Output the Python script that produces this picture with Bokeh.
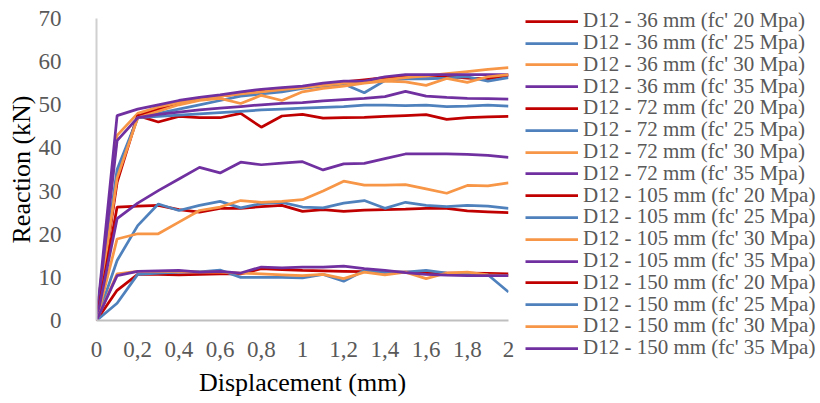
from bokeh.plotting import figure
from bokeh.models import Range1d, FixedTicker, CustomJSTickFormatter, Legend, LegendItem
from bokeh.layouts import row
from bokeh.embed import file_html
from bokeh.resources import INLINE

displacement = [0, 0.1, 0.2, 0.3, 0.4, 0.5, 0.6, 0.7, 0.8, 0.9, 1.0,
                1.1, 1.2, 1.3, 1.4, 1.5, 1.6, 1.7, 1.8, 1.9, 2.0]

r36_20 = [0, 33, 47.5, 49, 50.5, 51.5, 52, 52.5, 53.2, 53.5, 54, 54.8, 55.3, 55.8, 56.3, 56.5, 56.7, 56.6, 56.2, 56.0, 56.8]
r36_25 = [0, 35, 47, 48, 49, 50, 51, 52, 52.5, 53, 53.8, 54.3, 54.8, 52.8, 55.6, 56, 56, 56.2, 56.5, 55.5, 56.3]
r36_30 = [0, 42.9, 48, 49.5, 50.5, 51.5, 52, 52.5, 53, 53.5, 54, 54.5, 55, 55.3, 55.8, 56.3, 56.7, 57.2, 57.7, 58.2, 58.6]
r36_35 = [0, 47.5, 49, 50, 51, 51.7, 52.3, 53, 53.6, 54, 54.3, 55, 55.5, 55.5, 56.5, 57, 57, 57, 57, 57, 57]

r72_20 = [0, 32, 47.5, 46, 47.3, 47, 47, 48, 44.8, 47.4, 47.8, 46.9, 47, 47.1, 47.3, 47.5, 47.7, 46.6, 47, 47.2, 47.3]
r72_25 = [0, 34, 47, 47.3, 47.6, 47.9, 48.2, 48.5, 48.8, 49, 49.2, 49.4, 49.6, 49.9, 49.9, 49.8, 49.9, 49.6, 49.7, 49.9, 49.7]
r72_30 = [0, 33, 47, 48.5, 50, 51, 51.5, 50.3, 52.2, 51, 53, 53.8, 54.3, 55, 55.5, 55.3, 54.5, 56.1, 55.2, 56.5, 57]
r72_35 = [0, 41.7, 47, 47.8, 48.3, 48.8, 49.2, 49.6, 50, 50.3, 50.5, 50.9, 51.2, 51.5, 51.9, 53.1, 52, 51.7, 51.5, 51.4, 51.3]

r105_20 = [0, 26.3, 26.5, 26.7, 25.7, 25.1, 26, 26, 26.4, 26.7, 25.3, 25.7, 25.3, 25.6, 25.7, 25.8, 26, 26, 25.4, 25.2, 25]
r105_25 = [0, 13.9, 22, 27, 25.5, 26.7, 27.6, 26.1, 27.1, 27.4, 26.3, 26.1, 27.2, 27.8, 26, 27.4, 26.7, 26.4, 26.7, 26.5, 26]
r105_30 = [0, 18.9, 20.1, 20.1, 22.8, 25.5, 26.3, 27.8, 27.4, 27.6, 28, 30, 32.3, 31.4, 31.4, 31.5, 30.5, 29.5, 31.3, 31.2, 31.9]
r105_35 = [0, 23.6, 27.2, 30.1, 32.8, 35.5, 34.2, 36.7, 36.1, 36.5, 36.8, 34.9, 36.3, 36.4, 37.5, 38.6, 38.6, 38.6, 38.5, 38.3, 37.8]

r150_20 = [0, 7, 10.7, 10.7, 10.6, 10.7, 10.8, 10.8, 12, 11.8, 11.6, 11.5, 11.4, 11.3, 11.2, 11.2, 11.1, 11, 11, 10.9, 10.8]
r150_25 = [0, 4, 10.7, 11, 11.2, 11.3, 11.7, 10, 10, 10, 9.9, 10.7, 9.1, 11.6, 11.2, 11.2, 11.6, 11, 10.8, 10.6, 6.6]
r150_30 = [0, 10.8, 11.4, 11.4, 11.4, 11.2, 11.2, 11, 10.8, 10.6, 10.4, 10.7, 9.7, 11.2, 10.6, 11.2, 9.7, 11, 11.2, 10.6, 10.4]
r150_35 = [0, 10.4, 11.4, 11.5, 11.6, 11.2, 11.4, 11, 12.4, 12.2, 12.4, 12.4, 12.6, 12, 11.6, 11.1, 10.7, 10.5, 10.4, 10.4, 10.4]

series_names = [
    "D12 - 36 mm (fc' 20 Mpa)", "D12 - 36 mm (fc' 25 Mpa)", "D12 - 36 mm (fc' 30 Mpa)", "D12 - 36 mm (fc' 35 Mpa)",
    "D12 - 72 mm (fc' 20 Mpa)", "D12 - 72 mm (fc' 25 Mpa)", "D12 - 72 mm (fc' 30 Mpa)", "D12 - 72 mm (fc' 35 Mpa)",
    "D12 - 105 mm (fc' 20 Mpa)", "D12 - 105 mm (fc' 25 Mpa)", "D12 - 105 mm (fc' 30 Mpa)", "D12 - 105 mm (fc' 35 Mpa)",
    "D12 - 150 mm (fc' 20 Mpa)", "D12 - 150 mm (fc' 25 Mpa)", "D12 - 150 mm (fc' 30 Mpa)", "D12 - 150 mm (fc' 35 Mpa)",
]
series_values = [r36_20, r36_25, r36_30, r36_35, r72_20, r72_25, r72_30, r72_35,
                 r105_20, r105_25, r105_30, r105_35, r150_20, r150_25, r150_30, r150_35]
palette = ["#C00000", "#4F81BD", "#F79646", "#7030A0"]

x_ticks = [0, 0.2, 0.4, 0.6, 0.8, 1.0, 1.2, 1.4, 1.6, 1.8, 2.0]
y_ticks = [0, 10, 20, 30, 40, 50, 60, 70]

FONT = "Liberation Serif"
LW = 2.75

# ---- main chart ----
p = figure(width=518, height=403, output_backend="svg", toolbar_location=None,
           x_range=Range1d(0, 2), y_range=Range1d(0, 70),
           min_border_left=96, min_border_right=10, min_border_top=18, min_border_bottom=83)
p.outline_line_color = None
p.xgrid.visible = False
p.ygrid.visible = False
p.frame_align = False

for i, vals in enumerate(series_values):
    p.line(displacement, vals, line_color=palette[i % 4], line_width=LW)

xa = p.xaxis[0]
xa.ticker = FixedTicker(ticks=x_ticks)
xa.formatter = CustomJSTickFormatter(code="var s = (Math.round(tick*10)/10).toString(); return s.replace('.', ',');")
xa.axis_line_color = "#BFBFBF"
xa.axis_line_width = 2
xa.major_tick_line_color = None
xa.minor_tick_line_color = None
xa.major_label_text_font = FONT
xa.major_label_text_font_size = "23px"
xa.major_label_text_color = "#595959"
xa.major_label_standoff = 15
xa.axis_label = "Displacement (mm)"
xa.axis_label_text_font = FONT
xa.axis_label_text_font_size = "26px"
xa.axis_label_text_font_style = "normal"
xa.axis_label_text_color = "#000000"
xa.axis_label_standoff = 8

ya = p.yaxis[0]
ya.ticker = FixedTicker(ticks=y_ticks)
ya.axis_line_color = "#D0D0D0"
ya.axis_line_width = 2
ya.major_tick_line_color = None
ya.minor_tick_line_color = None
ya.major_label_text_font = FONT
ya.major_label_text_font_size = "23px"
ya.major_label_text_color = "#595959"
ya.major_label_standoff = 29
ya.axis_label = "Reaction (kN)"
ya.axis_label_text_font = FONT
ya.axis_label_text_font_size = "26px"
ya.axis_label_text_font_style = "normal"
ya.axis_label_text_color = "#000000"
ya.axis_label_standoff = 0

# ---- legend panel (same series, drawn off-view so only the legend shows) ----
p2 = figure(width=302, height=403, output_backend="svg", toolbar_location=None,
            x_range=Range1d(0, 2), y_range=Range1d(1000, 1070),
            x_axis_location=None, y_axis_location=None,
            min_border_left=0, min_border_right=0, min_border_top=0, min_border_bottom=0)
p2.outline_line_color = None
p2.xgrid.visible = False
p2.ygrid.visible = False
p2.frame_align = False

ROW_PITCH = 21.8
FIRST_BOTTOM = 369.8
for i, (name, vals) in enumerate(zip(series_names, series_values)):
    r = p2.line(displacement, vals, line_color=palette[i % 4], line_width=LW)
    lg = Legend(items=[LegendItem(label=name, renderers=[r])],
                location=(7, FIRST_BOTTOM - ROW_PITCH * i))
    lg.border_line_color = None
    lg.background_fill_alpha = 0
    lg.padding = 0
    lg.margin = 0
    lg.spacing = 0
    lg.label_height = 18
    lg.glyph_height = 18
    lg.glyph_width = 53
    lg.label_standoff = 5
    lg.label_text_font = FONT
    lg.label_text_font_size = "21px"
    lg.label_text_color = "#595959"
    lg.label_text_baseline = "middle"
    p2.add_layout(lg)

layout = row(p, p2, spacing=0)
open("out.html", "w").write(file_html(layout, INLINE))
